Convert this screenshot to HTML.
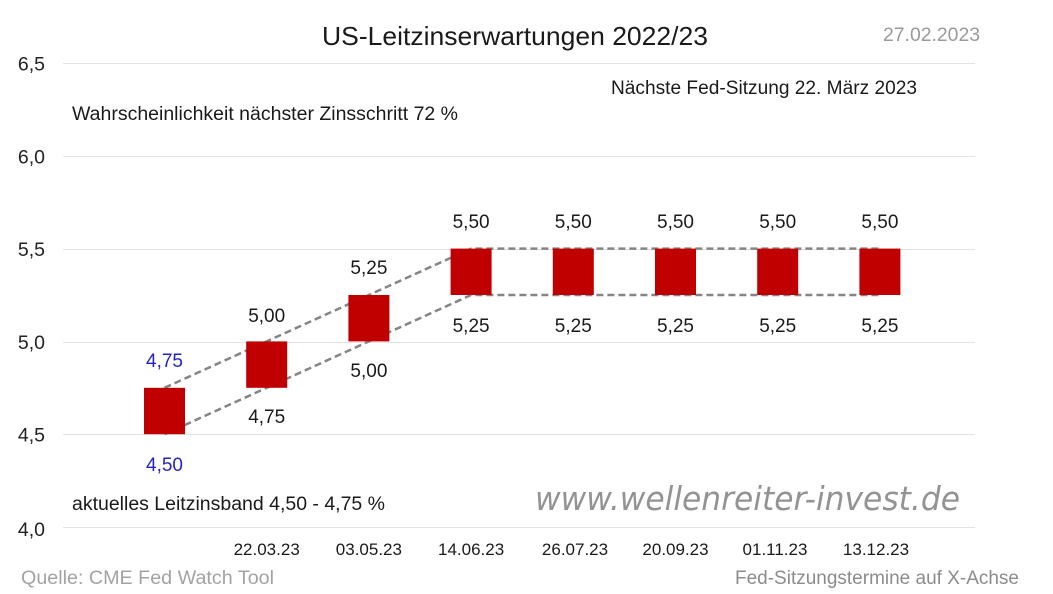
<!DOCTYPE html>
<html>
<head>
<meta charset="utf-8">
<style>
html,body{margin:0;padding:0;background:#fff;}
svg{display:block;}
text{font-family:"Liberation Sans",Arial,sans-serif;}
</style>
</head>
<body>
<svg width="1053" height="594" viewBox="0 0 1053 594" xmlns="http://www.w3.org/2000/svg">
<rect width="1053" height="594" fill="#fff"/>
<!-- gridlines -->
<g stroke="#e3e3e3" stroke-width="1">
<line x1="63" y1="63.5" x2="975" y2="63.5"/>
<line x1="63" y1="156.5" x2="975" y2="156.5"/>
<line x1="63" y1="249.5" x2="975" y2="249.5"/>
<line x1="63" y1="342.5" x2="975" y2="342.5"/>
<line x1="63" y1="434.5" x2="975" y2="434.5"/>
<line x1="63" y1="527.5" x2="975" y2="527.5"/>
</g>
<!-- y labels -->
<g font-size="19.5" fill="#222" text-anchor="end">
<text x="45" y="70.5">6,5</text>
<text x="45" y="163.5">6,0</text>
<text x="45" y="256">5,5</text>
<text x="45" y="349">5,0</text>
<text x="45" y="441.5">4,5</text>
<text x="45" y="536">4,0</text>
</g>
<!-- title and notes -->
<text x="322" y="45" font-size="26" fill="#1a1a1a" textLength="386" lengthAdjust="spacingAndGlyphs">US-Leitzinserwartungen 2022/23</text>
<text x="883" y="41" font-size="19" fill="#9a9a9a" textLength="97" lengthAdjust="spacingAndGlyphs">27.02.2023</text>
<text x="611" y="94" font-size="19" fill="#1a1a1a" textLength="306" lengthAdjust="spacingAndGlyphs">Nächste Fed-Sitzung 22. März 2023</text>
<text x="72" y="120" font-size="19" fill="#1a1a1a" textLength="386" lengthAdjust="spacingAndGlyphs">Wahrscheinlichkeit nächster Zinsschritt 72 %</text>
<!-- dashed lines -->
<g stroke="#858585" stroke-width="2.5" stroke-dasharray="7,4" fill="none">
<polyline points="164.5,387.8 266.7,341.4 368.9,295 471.1,248.6 879.9,248.6"/>
<polyline points="164.5,434.2 266.7,387.8 368.9,341.4 471.1,295 879.9,295"/>
</g>
<!-- bars -->
<g fill="#c00000">
<rect x="144" y="387.8" width="41" height="46.4"/>
<rect x="246.2" y="341.4" width="41" height="46.4"/>
<rect x="348.4" y="295" width="41" height="46.4"/>
<rect x="450.6" y="248.6" width="41" height="46.4"/>
<rect x="552.8" y="248.6" width="41" height="46.4"/>
<rect x="655" y="248.6" width="41" height="46.4"/>
<rect x="757.2" y="248.6" width="41" height="46.4"/>
<rect x="859.4" y="248.6" width="41" height="46.4"/>
</g>
<!-- value labels -->
<g font-size="19" text-anchor="middle" fill="#1a1a1a">
<text x="164.5" y="367" fill="#2424c4">4,75</text>
<text x="164.5" y="471" fill="#2424c4">4,50</text>
<text x="266.7" y="322">5,00</text>
<text x="266.7" y="423">4,75</text>
<text x="368.9" y="274">5,25</text>
<text x="368.9" y="377">5,00</text>
<text x="471.1" y="228">5,50</text>
<text x="471.1" y="332">5,25</text>
<text x="573.3" y="228">5,50</text>
<text x="573.3" y="332">5,25</text>
<text x="675.5" y="228">5,50</text>
<text x="675.5" y="332">5,25</text>
<text x="777.7" y="228">5,50</text>
<text x="777.7" y="332">5,25</text>
<text x="879.9" y="228">5,50</text>
<text x="879.9" y="332">5,25</text>
</g>
<!-- bottom notes -->
<text x="72" y="510" font-size="19" fill="#1a1a1a" textLength="313" lengthAdjust="spacingAndGlyphs">aktuelles Leitzinsband 4,50 - 4,75 %</text>
<text x="535" y="510" font-size="33" font-style="oblique" fill="#939393" style="font-family:'DejaVu Sans',sans-serif" textLength="425" lengthAdjust="spacingAndGlyphs">www.wellenreiter-invest.de</text>
<!-- x labels -->
<g font-size="17" text-anchor="middle" fill="#1a1a1a">
<text x="266.7" y="555">22.03.23</text>
<text x="368.9" y="555">03.05.23</text>
<text x="471.1" y="555">14.06.23</text>
<text x="575" y="555">26.07.23</text>
<text x="675.5" y="555">20.09.23</text>
<text x="775" y="555">01.11.23</text>
<text x="876" y="555">13.12.23</text>
</g>
<text x="21" y="584" font-size="19" fill="#a3a3a3" textLength="253" lengthAdjust="spacingAndGlyphs">Quelle: CME Fed Watch Tool</text>
<text x="735" y="584" font-size="19" fill="#8c8c8c" textLength="284" lengthAdjust="spacingAndGlyphs">Fed-Sitzungstermine auf X-Achse</text>
</svg>
</body>
</html>
